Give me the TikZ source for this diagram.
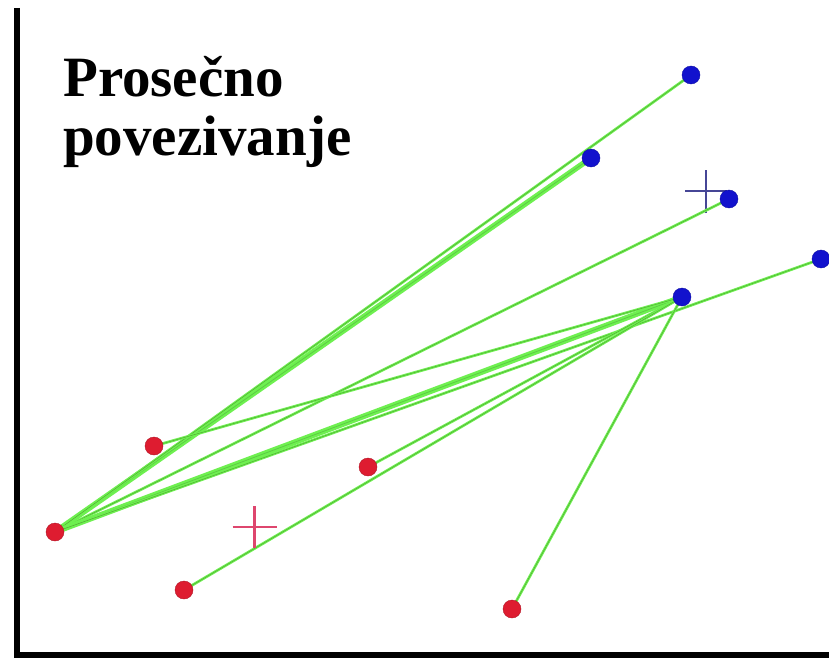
\documentclass[tikz,border=0pt]{standalone}
\usepackage{fontspec}
\setmainfont{Liberation Serif}
\usetikzlibrary{backgrounds}
\definecolor{reddot}{RGB}{222,28,48}
\definecolor{bluedot}{RGB}{18,18,205}
\definecolor{redplus}{RGB}{222,70,110}
\definecolor{blueplus}{RGB}{70,70,150}
\definecolor{linkout}{RGB}{110,240,80}
\definecolor{linkin}{RGB}{80,170,50}
\tikzset{
  redpt/.style={circle, fill=reddot, draw=reddot!80!black, line width=0.4pt, inner sep=0pt, minimum size=18pt},
  bluept/.style={circle, fill=bluedot, draw=bluedot!80!black, line width=0.4pt, inner sep=0pt, minimum size=18pt},
  link/.style={draw=linkout, double=linkin, double distance=0.5pt, line width=1.1pt},
  bandlink/.style={draw=linkout, double=linkout!85!black, double distance=0.8pt, line width=2.4pt},
  axis/.style={line width=6pt, black},
  plusmark/.style={line width=2.6pt},
  titletext/.style={anchor=base west, inner sep=0pt, font=\fontsize{57}{60}\selectfont\bfseries}
}
\begin{document}
\begin{tikzpicture}[x=1pt, y=-1pt]
\useasboundingbox (0,0) rectangle (829,658);
\begin{scope}[on background layer]
\fill[white] (0,0) rectangle (829,658);
\end{scope}
% axes
\coordinate (axtop) at (17,8);
\coordinate (axorig) at (17,655);
\coordinate (axright) at (829,655);
\draw[axis] (axtop) -- (axorig) -- (axright);
% title
\node[titletext] (t1) at (63,97) {Prosečno};
\node[titletext] (t2) at (63,155) {povezivanje};
% red cluster
\node[redpt] (r1) at (154,446) {};
\node[redpt] (r2) at (55,532) {};
\node[redpt] (r3) at (184,590) {};
\node[redpt] (r4) at (368,467) {};
\node[redpt] (r5) at (512,609) {};
% blue cluster
\node[bluept] (b1) at (691,75) {};
\node[bluept] (b2) at (591,158) {};
\node[bluept] (b3) at (729,199) {};
\node[bluept] (b4) at (682,297) {};
\node[bluept] (b5) at (821,259) {};
% centroids
\coordinate (rc) at (254.5,527);
\coordinate (bc) at (706,191);
\begin{scope}[on background layer]
\draw[plusmark, blueplus] ([xshift=-21pt]bc) -- ([xshift=21pt]bc) ([yshift=-22pt]bc) -- ([yshift=21pt]bc);
% links
\draw[bandlink] (r2.center) -- (b2.center);
\draw[link] (r2.center) -- (b1.center);
\draw[link] (r2.center) -- (b3.center);
\draw[bandlink] (r2.center) -- (b4.center);
\draw[link] (r2.center) -- (b5.center);
\draw[link] (r1.center) -- (b4.center);
\draw[link] (r4.center) -- (b4.center);
\draw[link] (r3.center) -- (b4.center);
\draw[link] (r5.center) -- (b4.center);
\end{scope}
\draw[plusmark, redplus] ([xshift=-22pt]rc) -- ([xshift=22pt]rc) ([yshift=-21pt]rc) -- ([yshift=21pt]rc);
\end{tikzpicture}
\end{document}
